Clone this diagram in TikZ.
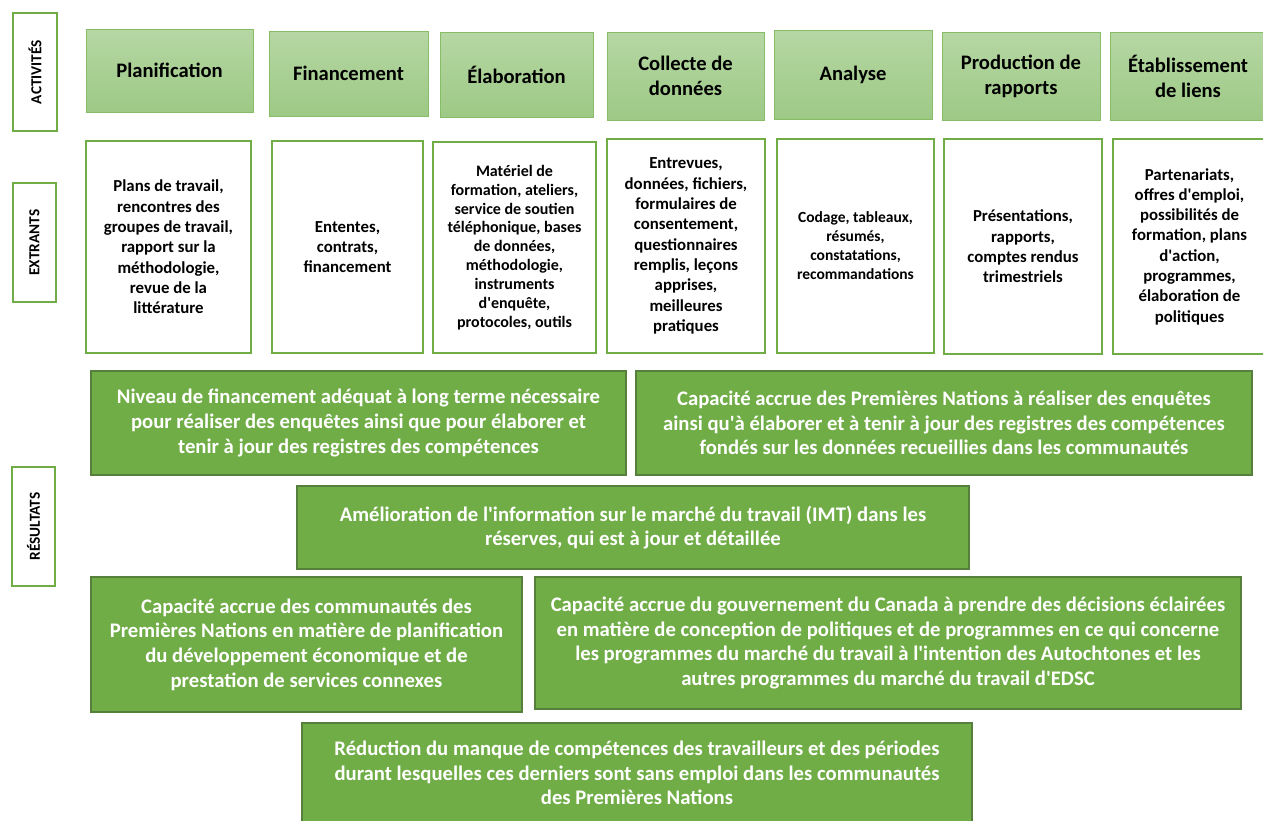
\documentclass[tikz,border=0pt]{standalone}
\usepackage{fontspec}
\setmainfont{Carlito}
\definecolor{greenA}{HTML}{70AD47}
\definecolor{resBorder}{HTML}{557F3A}
\definecolor{actTop}{HTML}{B6D7A4}
\definecolor{actBot}{HTML}{9DC985}
\definecolor{actBorder}{HTML}{86BD66}
\newcommand{\ap}{\textquotesingle}
\tikzset{
  actbox/.style={draw=actBorder, line width=1pt, top color=actTop, bottom color=actBot,
    font=\fontsize{20.6}{25}\selectfont\bfseries, align=center, anchor=north west,
    inner sep=0pt, outer sep=0pt},
  extbox/.style={draw=greenA, line width=2pt, fill=white,
    font=\fontsize{16.8}{20.3}\selectfont\bfseries, align=center, anchor=north west,
    inner sep=0pt, outer sep=0pt},
  resbox/.style={draw=resBorder, line width=1.5pt, fill=greenA, text=white,
    font=\fontsize{20.7}{24.7}\selectfont\bfseries, align=center, anchor=north west,
    inner sep=0pt, outer sep=0pt},
  sidebox/.style={draw=greenA, line width=2pt, fill=white, rotate=90,
    font=\fontsize{15.3}{17}\selectfont\bfseries, inner sep=0pt, outer sep=0pt}
}
\begin{document}
\begin{tikzpicture}[x=1pt,y=-1pt]
\useasboundingbox (0,0) rectangle (1263,820);
% side labels
\node[sidebox, minimum width=118pt, minimum height=44pt] (sa) at (35,72) {ACTIVITÉS};
\node[sidebox, minimum width=119pt, minimum height=43pt] (se) at (34.5,242.5) {EXTRANTS};
\node[sidebox, minimum width=119pt, minimum height=43pt] (sr) at (33.5,526.5) {RÉSULTATS};
% activities
\node[actbox, minimum width=167pt, minimum height=83pt] (a1) at (86,29) {Planification};
\node[actbox, minimum width=159pt, minimum height=85pt] (a2) at (269,31) {Financement};
\node[actbox, minimum width=153pt, minimum height=85pt] (a3) at (440,32) {Élaboration};
\node[actbox, minimum width=157pt, minimum height=88pt] (a4) at (607,32) {Collecte de\\données};
\node[actbox, minimum width=158pt, minimum height=89pt] (a5) at (774,30) {Analyse};
\node[actbox, minimum width=158pt, minimum height=88pt] (a6) at (942,32) {Production de\\rapports};
\node[actbox, minimum width=156pt, minimum height=88pt] (a7) at (1110,32) {Établissement\\de liens};
% outputs
\node[extbox, minimum width=165pt, minimum height=212pt] (e1) at (86,141)
  {Plans de travail,\\rencontres des\\groupes de travail,\\rapport sur la\\méthodologie,\\revue de la\\littérature};
\node[extbox, minimum width=151pt, minimum height=212pt] (e2) at (272,141)
  {Ententes,\\contrats,\\financement};
\node[extbox, minimum width=163pt, minimum height=211pt, font=\fontsize{16}{18.9}\selectfont\bfseries] (e3) at (433,142)
  {Matériel de\\formation, ateliers,\\service de soutien\\téléphonique, bases\\de données,\\méthodologie,\\instruments\\d\ap enquête,\\protocoles, outils};
\node[extbox, minimum width=158pt, minimum height=214pt] (e4) at (607,139)
  {Entrevues,\\données, fichiers,\\formulaires de\\consentement,\\questionnaires\\remplis, leçons\\apprises,\\meilleures\\pratiques};
\node[extbox, minimum width=157pt, minimum height=214pt, font=\fontsize{15.5}{19}\selectfont\bfseries] (e5) at (777,139)
  {Codage, tableaux,\\résumés,\\constatations,\\recommandations};
\node[extbox, minimum width=158pt, minimum height=215pt] (e6) at (944,139)
  {Présentations,\\rapports,\\comptes rendus\\trimestriels};
\node[extbox, minimum width=153pt, minimum height=215pt] (e7) at (1113,139)
  {Partenariats,\\offres d\ap emploi,\\possibilités de\\formation, plans\\d\ap action,\\programmes,\\élaboration de\\politiques};
% results
\node[resbox, minimum width=535pt, minimum height=104pt] (r1) at (91,371)
  {Niveau de financement adéquat à long terme nécessaire\\pour réaliser des enquêtes ainsi que pour élaborer et\\tenir à jour des registres des compétences};
\node[resbox, minimum width=616pt, minimum height=104pt] (r2) at (636,371)
  {Capacité accrue des Premières Nations à réaliser des enquêtes\\ainsi qu\ap à élaborer et à tenir à jour des registres des compétences\\fondés sur les données recueillies dans les communautés};
\node[resbox, minimum width=672pt, minimum height=83pt] (r3) at (297,486)
  {Amélioration de l\ap information sur le marché du travail (IMT) dans les\\réserves, qui est à jour et détaillée};
\node[resbox, minimum width=431pt, minimum height=135pt] (r4) at (91,577)
  {Capacité accrue des communautés des\\Premières Nations en matière de planification\\du développement économique et de\\prestation de services connexes};
\node[resbox, minimum width=706pt, minimum height=132pt] (r5) at (535,577)
  {Capacité accrue du gouvernement du Canada à prendre des décisions éclairées\\en matière de conception de politiques et de programmes en ce qui concerne\\les programmes du marché du travail à l\ap intention des Autochtones et les\\autres programmes du marché du travail d\ap EDSC};
\node[resbox, minimum width=670pt, minimum height=100pt] (r6) at (302,723)
  {Réduction du manque de compétences des travailleurs et des périodes\\durant lesquelles ces derniers sont sans emploi dans les communautés\\des Premières Nations};
\end{tikzpicture}
\end{document}
